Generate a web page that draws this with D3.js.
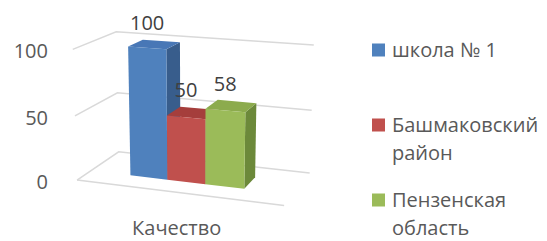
<!DOCTYPE html>
<html>
<head>
<meta charset="utf-8">
<script src="https://cdn.jsdelivr.net/npm/d3@7"></script>
<style>
	body { margin: 0; background: #fff; }
	svg { display: block; font-family: "Open Sans", sans-serif; }
</style>
</head>
<body>
<svg id="chart" width="547" height="241"></svg>
<script>
	const categories = ["Качество"];
	const seriesNames = ["школа № 1", "Башмаковский район", "Пензенская область"];
	const values = [100, 50, 58];
	const yTicks = [0, 50, 100];
	const frontColors = ["#4f81bd", "#c0504d", "#9bbb59"];
	const topColors = ["#4877b6", "#a53e3c", "#8cab4d"];
	const sideColors = ["#385d8c", "#8e3836", "#6c893a"];

	// 3d box (world units) and camera
	const W = 220, H = 137, D = 104;
	const barDepth = 38;
	const yaw = 20 * Math.PI / 180;
	const pitch = 15 * Math.PI / 180;
	const dist = 1000, focal = 977, ox = 194.6, oy = 113;

	function project(x, y, z) {
		const px = x - W / 2, py = y - H / 2, pz = z - D / 2;
		const x1 = px * Math.cos(yaw) + pz * Math.sin(yaw);
		const z1 = -px * Math.sin(yaw) + pz * Math.cos(yaw);
		const y2 = py * Math.cos(pitch) + z1 * Math.sin(pitch);
		const z2 = z1 * Math.cos(pitch) - py * Math.sin(pitch);
		const s = focal / (dist + z2);
		return [ox + x1 * s, oy - y2 * s];
	}

	const y = d3.scaleLinear().domain([0, 100]).range([0, H]);
	const x = d3.scaleBand().domain(seriesNames).range([45.5, 170]).paddingInner(0);
	const line = d3.line();
	const poly = (pts) => line(pts.map((p) => project(p[0], p[1], p[2]))) + "Z";

	const svg = d3.select("#chart");
	const textColor = "#595959";

	// walls: gridlines on side and back wall, floor front edge
	const grid = svg.append("g").attr("fill", "none").attr("stroke", "#d9d9d9").attr("stroke-width", 1.5);
	grid.selectAll("path.tick")
		.data(yTicks)
		.join("path")
		.attr("class", "tick")
		.attr("d", (v) => line([project(0, y(v), 0), project(0, y(v), D), project(W, y(v), D)]));
	grid.append("path").attr("d", line([project(0, 0, 0), project(W, 0, 0)]));

	// tick labels
	svg.append("g")
		.selectAll("text")
		.data(yTicks)
		.join("text")
		.attr("x", 48)
		.attr("y", (v) => project(0, y(v), 0)[1] + 2)
		.attr("dy", "0.35em")
		.attr("text-anchor", "end")
		.attr("font-size", 20)
		.attr("fill", textColor)
		.text((v) => v);

	// bars
	const zb = (D - barDepth) / 2;
	const bars = svg.append("g")
		.selectAll("g")
		.data(seriesNames.map((name, i) => ({ name, value: values[i], i })))
		.join("g");

	bars.each(function (d) {
		const g = d3.select(this);
		const x0 = x(d.name), x1 = x0 + x.bandwidth(), h = y(d.value), z1 = zb + barDepth;
		g.append("path").attr("fill", sideColors[d.i])
			.attr("d", poly([[x1, 0, zb], [x1, 0, z1], [x1, h, z1], [x1, h, zb]]));
		g.append("path").attr("fill", topColors[d.i])
			.attr("d", poly([[x0, h, zb], [x1, h, zb], [x1, h, z1], [x0, h, z1]]));
		g.append("path").attr("fill", frontColors[d.i])
			.attr("d", poly([[x0, 0, zb], [x1, 0, zb], [x1, h, zb], [x0, h, zb]]));
	});

	// value labels
	svg.append("g")
		.selectAll("text")
		.data(seriesNames.map((name, i) => ({ name, value: values[i] })))
		.join("text")
		.attr("x", (d) => project(x(d.name) + x.bandwidth() / 2, y(d.value), zb)[0])
		.attr("y", (d) => project(x(d.name) + x.bandwidth() / 2, y(d.value), zb + barDepth)[1] - 11)
		.attr("text-anchor", "middle")
		.attr("font-size", 20)
		.attr("fill", "#404040")
		.text((d) => d.value);

	// category label
	svg.append("g")
		.selectAll("text")
		.data(categories)
		.join("text")
		.attr("x", project(W / 2, 0, 0)[0])
		.attr("y", project(W / 2, 0, 0)[1] + 43)
		.attr("text-anchor", "middle")
		.attr("font-size", 20)
		.attr("fill", textColor)
		.text((d) => d);

	// legend
	const legend = svg.append("g").attr("transform", "translate(372,43.5)");
	const items = legend.selectAll("g")
		.data(seriesNames)
		.join("g")
		.attr("transform", (d, i) => `translate(0,${i * 75})`);
	items.append("rect")
		.attr("width", 13)
		.attr("height", 13)
		.attr("fill", (d, i) => frontColors[i]);
	items.each(function (name) {
		const words = name.split(" ");
		const lines = [];
		let cur = "";
		const probe = d3.select(this).append("text").attr("font-size", 20);
		for (const w of words) {
			const test = cur ? cur + " " + w : w;
			probe.text(test);
			if (cur && probe.node().getComputedTextLength() > 152) {
				lines.push(cur);
				cur = w;
			} else {
				cur = test;
			}
		}
		lines.push(cur);
		probe.remove();
		d3.select(this).append("text")
			.attr("font-size", 20)
			.attr("fill", textColor)
			.selectAll("tspan")
			.data(lines)
			.join("tspan")
			.attr("x", 20)
			.attr("y", (l, j) => 13.5 + j * 28)
			.text((l) => l);
	});
</script>
</body>
</html>
